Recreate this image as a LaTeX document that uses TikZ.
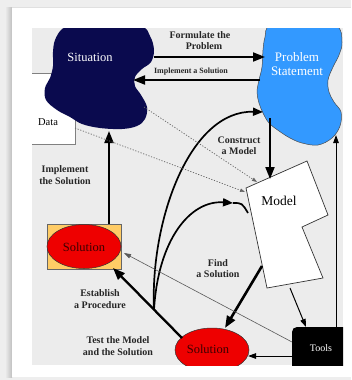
\documentclass[tikz,border=0pt]{standalone}
\usepackage{fontspec}
\setmainfont{Liberation Serif}
\usetikzlibrary{arrows.meta}

\definecolor{pagegray}{HTML}{EEEEEE}
\definecolor{panelgray}{HTML}{ECECEC}
\definecolor{navy}{HTML}{0A0A4E}
\definecolor{skyblue}{HTML}{3399FF}
\definecolor{solred}{HTML}{EE0000}
\definecolor{solorange}{HTML}{FFCC66}
\definecolor{soltext}{HTML}{3A0000}

\tikzset{
  bigarrow/.style={line width=2pt, -{Triangle[length=12pt,width=9pt]}},
  thickarrow/.style={line width=2.6pt, -{Triangle[length=12pt,width=9pt]}},
  curvearrow/.style={line width=1.7pt, -{Triangle[length=10pt,width=8pt]}},
  thinarrow/.style={line width=1pt, -{Triangle[length=8pt,width=5.5pt]}},
  hairarrow/.style={line width=0.6pt, draw=black!65, -{Triangle[length=7pt,width=4.5pt]}},
  dotarrow/.style={line width=0.7pt, draw=black!60, dash pattern=on 1.2pt off 1.6pt, -{Triangle[length=5pt,width=3.5pt]}},
  steplabel/.style={font=\bfseries\fontsize{10}{11.5}\selectfont, align=center, inner sep=0pt, text=black!85},
  smalllabel/.style={font=\bfseries\fontsize{8}{9}\selectfont, align=center, inner sep=0pt, text=black!85},
  blobtext/.style={font=\fontsize{13}{14}\selectfont, text=white, align=center, inner sep=0pt},
  plaintext/.style={font=\fontsize{12.5}{14}\selectfont, align=center, inner sep=0pt},
  soltextstyle/.style={font=\fontsize{12.5}{14}\selectfont, text=soltext, inner sep=0pt},
}

\begin{document}
\begin{tikzpicture}[x=1pt,y=-1pt]
  \useasboundingbox (0,0) rectangle (351,380);

  % page, card and its shadow
  \fill[pagegray] (0,0) rectangle (351,380);
  \shade[left color=pagegray, right color=black!25] (5,7) rectangle (12,377);
  \fill[white] (12,7) rectangle (351,377);
  \draw[black!12, line width=0.6pt] (12,7) -- (351,7);

  % drawing panel
  \fill[panelgray] (32,28) rectangle (343,365);

  \begin{scope}
    \clip (32,28) rectangle (343,365);

    % data box (its left side runs off the panel)
    \draw[fill=white, draw=black!50, line width=0.6pt] (20,73) rectangle (75,144);
    \node[plaintext, font=\fontsize{10.5}{12}\selectfont] (data) at (48,122) {Data};

    % situation blob
    \fill[navy] plot[smooth cycle, tension=0.6] coordinates {
      (62,29) (72,26) (100,25) (140,26) (150,36) (154,50) (151,62)
      (142,69) (135,77) (135,86) (141,95) (147,107) (145,119) (137,126)
      (122,129) (100,128) (82,124) (70,117) (57,110) (46,100) (45,88)
      (50,78) (53,66) (53,52) (55,40)};
    \node[blobtext, font=\fontsize{12.5}{14}\selectfont] (situation) at (90,57) {Situation};

    % problem statement blob
    \filldraw[fill=skyblue, draw=black!70, line width=0.5pt] plot[smooth cycle, tension=0.6] coordinates {
      (270,26) (300,25) (336,26) (342,42) (339,55) (333,67) (328,80)
      (329,92) (334,102) (341,112) (340,126) (332,138) (318,145) (302,143)
      (290,138) (279,131) (269,123) (263,113) (259,103) (257,92) (259,80)
      (262,67) (263,50) (265,37)};
    \node[blobtext] (problem) at (297,64) {Problem\\Statement};

    % model sheet
    \filldraw[fill=white, draw=black!80, line width=0.7pt]
      (246,188) -- (307,161) -- (328,215) -- (302,227) -- (323,278) -- (267,288) -- cycle;
    \node[plaintext, font=\fontsize{13.5}{15}\selectfont] (model) at (279,201) {Model};

    % tools box
    \fill[black, rounded corners=5pt] (292,327) rectangle (350,372);
    \node[font=\fontsize{10}{12}\selectfont, text=white, inner sep=0pt] (tools) at (321,348) {Tools};

    % procedure: framed solution
    \filldraw[fill=solorange, draw=black!60, line width=0.6pt] (47,224) rectangle (121,269);
    \filldraw[fill=solred, draw=black!80, line width=0.5pt] (84,246.5) ellipse [x radius=37, y radius=22];
    \node[soltextstyle] (procsol) at (84,247) {Solution};

    % solution found from the model
    \filldraw[fill=solred, draw=black!80, line width=0.5pt] (212,350) ellipse [x radius=37, y radius=22];
    \node[soltextstyle] (modsol) at (208,349) {Solution};

    % attachment points
    \coordinate (sitR1) at (154,57);
    \coordinate (probL1) at (265,57);
    \coordinate (probL2) at (260,80);
    \coordinate (sitR2) at (133,80);
    \coordinate (probB) at (270,118);
    \coordinate (modT) at (270,179);
    \coordinate (toolsT) at (336,327);
    \coordinate (probR) at (336,135);
    \coordinate (fork) at (154,310);
    \coordinate (probL3) at (263,112);
    \coordinate (modArrow) at (233,203);
    \coordinate (modL) at (248,213);
    \coordinate (modB) at (262,266);
    \coordinate (modsolT) at (225,328);
    \coordinate (modB2) at (290,288);
    \coordinate (toolsT2) at (306,327);
    \coordinate (toolsL) at (292,356);
    \coordinate (modsolR) at (248,356);
    \coordinate (toolsL2) at (292,342);
    \coordinate (procR) at (124,253);
    \coordinate (modsolL) at (182,338);
    \coordinate (procB) at (113,268);
    \coordinate (procT) at (109,224);
    \coordinate (sitB) at (109,131);
    \coordinate (sitDot) at (144,107);
    \coordinate (modDot1) at (257,182);
    \coordinate (dataR) at (75,128);
    \coordinate (modDot2) at (245,192);

    % connectors
    \draw[bigarrow] (sitR1) -- (probL1);
    \draw[bigarrow] (probL2) -- (sitR2);
    \draw[bigarrow] (probB) -- (modT);
    \draw[thinarrow] (toolsT) -- (probR);
    \draw[curvearrow] (fork) .. controls (150,220) and (190,110) .. (probL3);
    \draw[curvearrow] (fork) .. controls (158,240) and (190,200) .. (modArrow);
    \draw[line width=1.7pt] (modArrow) .. controls (242,203) .. (modL);
    \draw[thickarrow] (modB) -- (modsolT);
    \draw[thinarrow] (modB2) -- (toolsT2);
    \draw[thinarrow] (toolsL) -- (modsolR);
    \draw[hairarrow] (toolsL2) -- (procR);
    \draw[thickarrow, line width=2.3pt] (modsolL) -- (procB);
    \draw[bigarrow] (procT) -- (sitB);
    \draw[dotarrow] (sitDot) -- (modDot1);
    \draw[dotarrow] (dataR) -- (modDot2);

    % step labels
    \node[steplabel] (formulate) at (200,40.5) {Formulate the\\\hspace*{8pt}Problem};
    \node[smalllabel] (implement) at (191,72) {Implement a Solution};
    \node[steplabel] (construct) at (239,145.5) {Construct\\a Model};
    \node[steplabel] (implsol) at (65,175) {Implement\\the Solution};
    \node[steplabel] (findsol) at (218,268.5) {Find\\a Solution};
    \node[steplabel] (establish) at (100,299) {Establish\\a Procedure};
    \node[steplabel] (testmodel) at (118,346) {Test the Model\\and the Solution};
  \end{scope}
\end{tikzpicture}
\end{document}
